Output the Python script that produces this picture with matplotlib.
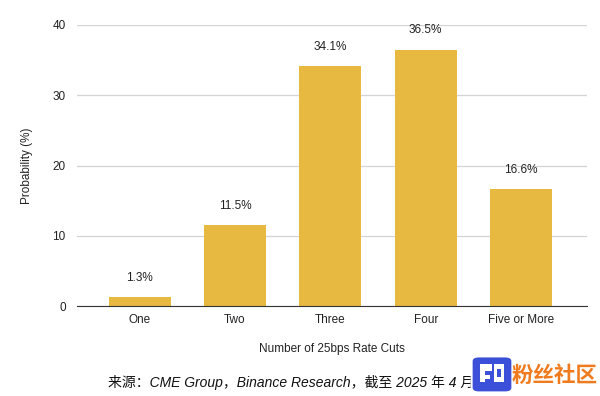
import matplotlib.pyplot as plt
from matplotlib.patches import FancyBboxPatch, Rectangle

plt.rcParams['font.family'] = ['Liberation Sans', 'Noto Sans CJK SC', 'DejaVu Sans']

categories = ["One", "Two", "Three", "Four", "Five or More"]
probs = [1.3, 11.5, 34.1, 36.5, 16.6]
yticks = [0, 10, 20, 30, 40]

fig = plt.figure(figsize=(6, 3.96), dpi=100)
ax = fig.add_axes([0.128, 0.227, 0.85, 0.71])

x = range(len(categories))
bars = ax.bar(x, probs, width=0.65, color="#E7B941", zorder=2)
for b, v in zip(bars, probs):
    ax.annotate(f"{v}%", (b.get_x() + b.get_width() / 2, v), xytext=(0, 14),
                textcoords="offset points", ha="center", va="center", fontsize=8.5,
                color="#222222")

ax.set_xlim(-0.66, 4.69)
ax.set_ylim(0, 40)
ax.set_yticks(yticks)
ax.set_xticks(list(x))
ax.set_xticklabels(categories)
ax.grid(axis="y", color="#d4d4d4", linewidth=0.9, zorder=0)
for s in ["top", "right", "left"]:
    ax.spines[s].set_visible(False)
ax.spines["bottom"].set_color("#333333")
ax.spines["bottom"].set_zorder(3)
ax.tick_params(axis="both", length=0, labelsize=8.5, colors="#222222")
ax.tick_params(axis="x", pad=6)
ax.tick_params(axis="y", pad=8)
ax.set_xlabel("Number of 25bps Rate Cuts", fontsize=8.5, labelpad=12, color="#222222")
ax.set_ylabel("Probability (%)", fontsize=8.5, labelpad=14, color="#222222")

fig.text(0.18, 0.033, "来源：CME Group，Binance Research，截至 2025 年 4 月",
         fontsize=10, style="italic", ha="left", va="center", color="#111111", zorder=1)

# watermark (covers the end of the caption, as in the source)
logo = FancyBboxPatch((0.789, 0.012), 0.062, 0.085, boxstyle="round,pad=0.003,rounding_size=0.012",
                      transform=fig.transFigure, facecolor="#3b4fd8", edgecolor="white",
                      linewidth=1.5, zorder=5)
fig.patches.append(logo)
for (bx, by, bw, bh) in [(0.800, 0.035, 0.008, 0.045), (0.808, 0.062, 0.012, 0.018),
                         (0.808, 0.042, 0.008, 0.012), (0.824, 0.035, 0.016, 0.045)]:
    fig.patches.append(Rectangle((bx, by), bw, bh, transform=fig.transFigure,
                                 facecolor="white", edgecolor="none", zorder=6))
fig.patches.append(Rectangle((0.829, 0.048), 0.006, 0.020, transform=fig.transFigure,
                             facecolor="#3b4fd8", edgecolor="none", zorder=7))
fig.text(0.853, 0.052, "粉丝社区", fontsize=15.5, color="#F07B1E", ha="left", va="center",
         family=["Noto Sans CJK SC"], weight="bold", zorder=6)

fig.savefig("out.png", dpi=100)
